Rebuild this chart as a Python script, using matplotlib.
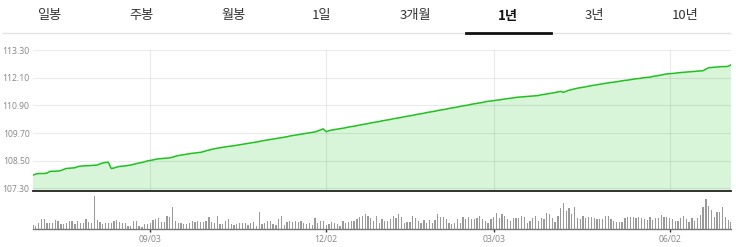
import numpy as np
import pandas as pd
import matplotlib.pyplot as plt
from matplotlib.lines import Line2D

# 탭 메뉴
tabs = ['일봉', '주봉', '월봉', '1일', '3개월', '1년', '3년', '10년']
active_tab = '1년'

# 거래일 (미국 시장, 1년)
holidays = ['2024-07-04', '2024-09-02', '2024-11-28', '2024-12-25', '2025-01-01',
            '2025-01-09', '2025-01-20', '2025-02-17', '2025-04-18', '2025-05-26',
            '2025-06-19']
dates = pd.bdate_range('2024-07-03', '2025-07-03')
dates = dates[~dates.isin(pd.to_datetime(holidays))]
tick_dates = ['2024-09-03', '2024-12-02', '2025-03-03', '2025-06-02']

# 종가
price = [
    107.87, 107.92, 107.94, 107.94, 107.94, 107.96, 108.03, 108.04, 108.04, 108.05,
    108.07, 108.12, 108.16, 108.17, 108.18, 108.19, 108.24, 108.26, 108.27, 108.28,
    108.28, 108.29, 108.30, 108.31, 108.36, 108.40, 108.42, 108.43, 108.16, 108.18,
    108.22, 108.25, 108.26, 108.27, 108.29, 108.31, 108.34, 108.37, 108.40, 108.42,
    108.45, 108.49, 108.51, 108.53, 108.56, 108.58, 108.59, 108.60, 108.61, 108.62,
    108.65, 108.69, 108.72, 108.74, 108.76, 108.78, 108.80, 108.82, 108.83, 108.85,
    108.86, 108.89, 108.93, 108.96, 108.99, 109.02, 109.04, 109.06, 109.08, 109.10,
    109.12, 109.13, 109.15, 109.17, 109.19, 109.21, 109.23, 109.25, 109.27, 109.29,
    109.31, 109.33, 109.36, 109.38, 109.40, 109.42, 109.44, 109.46, 109.48, 109.50,
    109.52, 109.54, 109.57, 109.59, 109.61, 109.63, 109.65, 109.67, 109.69, 109.71,
    109.73, 109.75, 109.79, 109.84, 109.88, 109.76, 109.80, 109.83, 109.85, 109.87,
    109.89, 109.91, 109.93, 109.96, 109.98, 110.00, 110.02, 110.05, 110.07, 110.09,
    110.11, 110.14, 110.16, 110.18, 110.20, 110.23, 110.25, 110.27, 110.29, 110.32,
    110.34, 110.36, 110.38, 110.41, 110.43, 110.45, 110.47, 110.50, 110.52, 110.54,
    110.56, 110.59, 110.61, 110.63, 110.65, 110.68, 110.70, 110.72, 110.74, 110.77,
    110.79, 110.81, 110.83, 110.86, 110.88, 110.90, 110.92, 110.95, 110.97, 110.99,
    111.01, 111.03, 111.06, 111.08, 111.09, 111.11, 111.13, 111.14, 111.16, 111.18,
    111.20, 111.21, 111.23, 111.25, 111.26, 111.27, 111.28, 111.29, 111.30, 111.31,
    111.32, 111.33, 111.36, 111.38, 111.40, 111.42, 111.44, 111.46, 111.49, 111.51,
    111.47, 111.52, 111.56, 111.59, 111.62, 111.65, 111.67, 111.69, 111.71, 111.74,
    111.76, 111.78, 111.80, 111.82, 111.84, 111.86, 111.88, 111.90, 111.91, 111.93,
    111.95, 111.97, 111.99, 112.00, 112.02, 112.04, 112.06, 112.07, 112.09, 112.11,
    112.12, 112.13, 112.16, 112.18, 112.20, 112.22, 112.25, 112.27, 112.28, 112.29,
    112.30, 112.32, 112.33, 112.34, 112.35, 112.36, 112.37, 112.38, 112.39, 112.40,
    112.41, 112.48, 112.54, 112.55, 112.56, 112.57, 112.58, 112.59, 112.59, 112.60,
    112.67,
]

# 거래량 (상대값)
volume = [
    12, 10, 19, 29, 31, 19, 19, 19, 27, 25, 14, 14, 17, 24, 25, 14, 25, 17, 17, 29,
    21, 19, 99, 27, 21, 14, 17, 19, 19, 25, 27, 22, 19, 19, 10, 10, 23, 23, 10, 7,
    14, 14,
    19, 27, 31, 32, 21, 21, 40, 37, 67, 25, 17, 17, 14, 15, 19, 25, 22, 25, 22, 21,
    23, 35, 22, 17, 40, 14, 14, 25, 29, 14, 12, 14, 17, 19, 17, 12, 19, 22, 10, 52,
    14, 19, 23,
    25, 14, 12, 30, 40, 12, 20, 24, 22, 24, 20, 24, 18, 15, 17, 12, 32, 18, 24, 24,
    12, 16, 22, 17, 14, 10, 24, 17, 20, 23, 25, 30, 35, 40, 46, 38, 34, 24, 38, 18,
    30, 25,
    25, 29, 40, 32, 44, 35, 19, 21, 21, 40, 32, 25, 19, 27, 19, 27, 19, 27, 44, 35,
    35, 29, 19, 14, 17, 29, 17, 37, 29, 35, 29, 29, 32, 40, 29, 25, 19, 29, 37, 49,
    32, 44,
    40, 29, 25, 32, 32, 32, 40, 37, 19, 25, 32, 40, 25, 32, 29, 49, 44, 32, 21, 40,
    62, 79, 54, 62, 44, 67, 32, 29, 39, 32, 37, 35, 32, 29, 29, 29, 40, 40, 29, 25,
    22, 22,
    22, 32, 35, 37, 37, 32, 37, 32, 30, 27, 35, 27, 32, 32, 42, 37, 35, 32, 29, 25,
    25, 32, 39, 29, 22, 32, 24, 32, 42, 65, 89, 69, 57, 37, 52, 52, 65, 35, 27, 22,
]

y_ticks = [107.30, 108.50, 109.70, 110.90, 112.10, 113.30]

x = np.arange(len(dates))
tick_pos = [dates.get_loc(pd.Timestamp(d)) for d in tick_dates]
tick_lab = [pd.Timestamp(d).strftime('%m/%d') for d in tick_dates]

W, H = 736, 247
fig = plt.figure(figsize=(W / 100, H / 100), dpi=100)

def box(l, t, r, b):
    return [l / W, 1 - b / H, (r - l) / W, (b - t) / H]

# 탭
tab_x = [49, 141, 234, 322, 415, 508, 594, 685]
for t, tx in zip(tabs, tab_x):
    on = t == active_tab
    fig.text(tx / W, 1 - 16 / H, t, ha='center', va='center', fontsize=9.5,
             family=['Noto Sans CJK KR', 'DejaVu Sans'],
             color='#111111' if on else '#333333',
             fontweight='bold' if on else 'normal')
fig.add_artist(Line2D([3 / W, 730 / W], [1 - 33.5 / H] * 2, color='#e2e2e2', lw=1))
fig.add_artist(Line2D([466 / W, 551 / W], [1 - 33 / H] * 2, color='#111111', lw=2))

# 가격 차트
ax = fig.add_axes(box(33, 50, 731, 191))
ax.fill_between(x, price, 100, color='#d9f5d9', lw=0, zorder=1)
ax.plot(x, price, color='#1ec21e', lw=1.1, zorder=3)
ax.set_xlim(0, len(x) - 1)
ax.set_ylim(107.18, 113.31)
ax.set_yticks(y_ticks)
ax.set_yticklabels([f'{v:.2f}' for v in y_ticks], fontsize=6.2, color='#8a8a8a',
                   family='Noto Sans')
ax.set_xticks(tick_pos)
ax.set_xticklabels([])
ax.tick_params(length=0, pad=2.5)
ax.grid(True, color='#000000', alpha=0.08, lw=0.8, zorder=2)
ax.set_axisbelow(False)
for s in ['top', 'right', 'left']:
    ax.spines[s].set_visible(False)
ax.spines['bottom'].set_color('#222222')
ax.spines['bottom'].set_linewidth(1.3)
ax.spines['bottom'].set_zorder(4)

# 거래량 차트
av = fig.add_axes(box(33, 196, 731, 229))
av.bar(x, volume, width=0.45, color='#999999', lw=0)
av.set_xlim(0, len(x) - 1)
av.set_ylim(0, 99)
av.set_yticks([])
av.set_xticks(tick_pos)
av.set_xticklabels(tick_lab, fontsize=6.2, color='#8a8a8a', family='Noto Sans')
av.tick_params(axis='x', length=2.5, width=1, color='#333333', pad=2)
for s in ['top', 'right', 'left']:
    av.spines[s].set_visible(False)
av.spines['bottom'].set_color('#777777')
av.spines['bottom'].set_linewidth(1)

fig.savefig('out.png', dpi=100)
